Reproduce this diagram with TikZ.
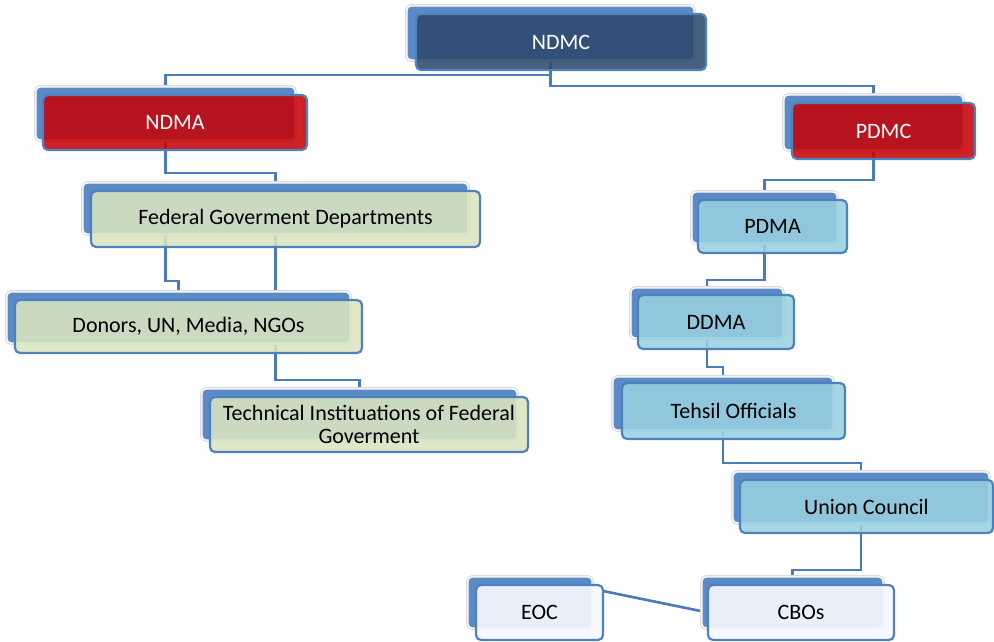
\documentclass[tikz,border=0pt]{standalone}
\usepackage{fontspec}
\setmainfont{Carlito}
\usetikzlibrary{calc}

\definecolor{backblue}{RGB}{91,139,198}
\definecolor{frameblue}{RGB}{79,129,189}
\definecolor{linkblue}{RGB}{74,124,186}
\definecolor{navyfill}{RGB}{46,74,110}
\definecolor{redfill}{RGB}{198,4,8}
\definecolor{greenfill}{RGB}{218,229,192}
\definecolor{cyanfill}{RGB}{153,208,224}
\definecolor{palefill}{RGB}{244,247,252}

\pgfdeclarelayer{links}
\pgfsetlayers{links,main}

\tikzset{
  backbox/.style={rectangle, rounded corners=4pt, fill=backblue,
    preaction={draw=black!14, line width=3.6pt},
    draw=white, line width=1.4pt, inner sep=0pt, outer sep=0pt},
  frontbox/.style={rectangle, rounded corners=5pt, draw=frameblue,
    line width=2.2pt, fill opacity=0.88, text opacity=1,
    inner sep=0pt, outer sep=0pt, align=center,
    font=\fontsize{22}{23}\selectfont},
  darkbox/.style={frontbox, fill=navyfill, text=white},
  redbox/.style={frontbox, fill=redfill, text=white},
  greenbox/.style={frontbox, fill=greenfill, text=black},
  cyanbox/.style={frontbox, fill=cyanfill, text=black},
  palebox/.style={frontbox, fill=palefill, fill opacity=0.93, text=black},
  link/.style={draw=linkblue, line width=2.6pt},
}

\begin{document}
\begin{tikzpicture}[x=1pt,y=-1pt]
\useasboundingbox (0,0) rectangle (994,641);

% back plates
\path
  node[backbox, minimum width=287pt, minimum height=54pt] (ndmc-b)   at (550.5,33)  {}
  node[backbox, minimum width=259pt, minimum height=53pt] (ndma-b)   at (165.5,113.5) {}
  node[backbox, minimum width=179pt, minimum height=55pt] (pdmc-b)   at (873.5,122.5) {}
  node[backbox, minimum width=385pt, minimum height=51pt] (fgd-b)    at (275.5,208.5) {}
  node[backbox, minimum width=343pt, minimum height=51pt] (donors-b) at (178.5,317.5) {}
  node[backbox, minimum width=315pt, minimum height=51pt] (tech-b)   at (359.5,414.5) {}
  node[backbox, minimum width=145pt, minimum height=51pt] (pdma-b)   at (764.5,217.5) {}
  node[backbox, minimum width=152pt, minimum height=50pt] (ddma-b)   at (707,313)   {}
  node[backbox, minimum width=220pt, minimum height=53pt] (tehsil-b) at (723,403.5) {}
  node[backbox, minimum width=256pt, minimum height=51pt] (union-b)  at (861,497.5) {}
  node[backbox, minimum width=181pt, minimum height=51pt] (cbos-b)   at (792.5,602.5) {}
  node[backbox, minimum width=124pt, minimum height=51pt] (eoc-b)    at (530,602.5) {};

% front panels with their labels
\path
  node[darkbox,  minimum width=290pt, minimum height=56pt] (ndmc)   at (561,42)    {NDMC}
  node[redbox,   minimum width=264pt, minimum height=55pt] (ndma)   at (175,122.5) {NDMA}
  node[redbox,   minimum width=183pt, minimum height=56pt] (pdmc)   at (883.5,131) {PDMC}
  node[greenbox, minimum width=389pt, minimum height=56pt] (fgd)    at (285.5,219) {Federal Goverment Departments}
  node[greenbox, minimum width=347pt, minimum height=53pt] (donors) at (188.5,326.5) {Donors, UN, Media, NGOs}
  node[greenbox, minimum width=318pt, minimum height=55pt] (tech)   at (369,424.5) {Technical Instituations of Federal\\Goverment}
  node[cyanbox,  minimum width=149pt, minimum height=53pt] (pdma)   at (772.5,226.5) {PDMA}
  node[cyanbox,  minimum width=156pt, minimum height=54pt] (ddma)   at (716,322)   {DDMA}
  node[cyanbox,  minimum width=223pt, minimum height=56pt] (tehsil) at (733.5,411) {Tehsil Officials}
  node[cyanbox,  minimum width=253pt, minimum height=53pt] (union)  at (866.5,506.5) {Union Council}
  node[palebox,  minimum width=186pt, minimum height=55pt] (cbos)   at (801,612.5) {CBOs}
  node[palebox,  minimum width=127pt, minimum height=55pt] (eoc)    at (539.5,612.5) {EOC};

% elbow connectors, kept underneath the boxes
\begin{pgfonlayer}{links}
  \draw[link] (ndmc-b.center) |- ([yshift=12pt]ndma-b.north) -- (ndma-b.north);
  \draw[link] (ndmc-b.center) |- ([yshift=9pt]pdmc-b.north) -- (pdmc-b.north);
  \draw[link] (ndma-b.center) |- ([yshift=10pt]fgd-b.north) -- (fgd-b.north);
  \draw[link] (ndma-b.center |- fgd-b.center) |- ([yshift=11pt]donors-b.north) -- (donors-b.north);
  \draw[link] (fgd-b.center) |- ([yshift=9pt]tech-b.north) -- (tech-b.north);
  \draw[link] (pdmc-b.center) |- ([yshift=12pt]pdma-b.north) -- (pdma-b.north);
  \draw[link] (pdma-b.center) |- ([yshift=8pt]ddma-b.north) -- (ddma-b.north);
  \draw[link] (ddma-b.center) |- ([yshift=10pt]tehsil-b.north) -- (tehsil-b.north);
  \draw[link] (tehsil-b.center) |- ([yshift=9pt]union-b.north) -- (union-b.north);
  \draw[link] (union-b.center) |- ([yshift=7pt]cbos-b.north) -- (cbos-b.north);
  \draw[link] ([yshift=-6pt]eoc.north east) -- (cbos.west);
\end{pgfonlayer}
\end{tikzpicture}
\end{document}
